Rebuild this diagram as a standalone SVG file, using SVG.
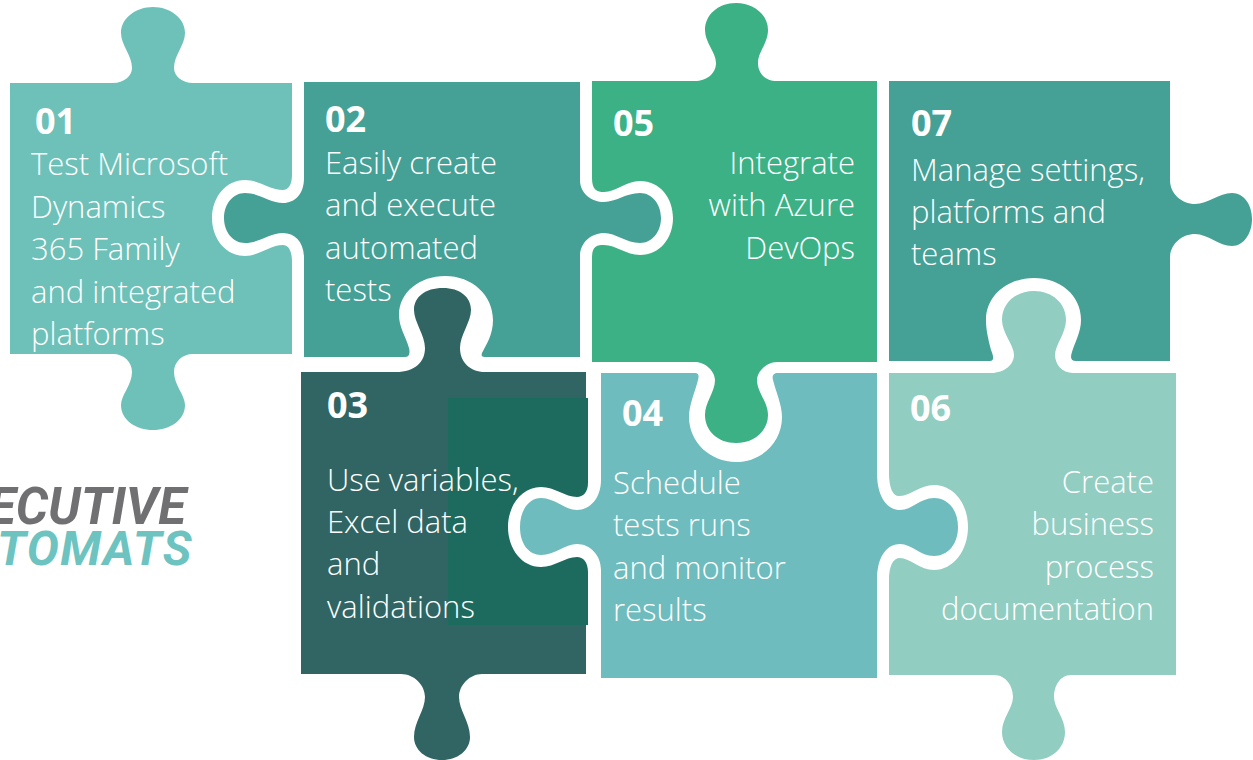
<svg xmlns="http://www.w3.org/2000/svg" width="1253" height="760" viewBox="0 0 1253 760">
<style>
.h{fill:#fff}
.n{font:700 36px "Open Sans",sans-serif;fill:#fff}
.t{font:300 31px "Open Sans",sans-serif;fill:#fff}
.e{text-anchor:end}
.l{font:italic 700 50px Roboto,sans-serif;text-anchor:end}
</style>
<rect width="1253" height="760" fill="#fff"/>
<g id="node-01">
<path fill="#6ec1b8" d="M10 83H113C124 83 132 76 132 68C132 55 121 45 121 33C121 18 136 7 153 7C170 7 185 18 185 33C185 45 174 55 174 68C174 76 182 83 193 83H292V354H193C182 354 174 362 174 372C174 385 185 395 185 405C185 420 170 430 153 430C136 430 121 420 121 405C121 395 132 385 132 372C132 362 124 354 113 354H10Z"/>
<text class="n" x="35" y="134">01</text>
<text class="t" x="31" y="175">Test Microsoft</text><text class="t" x="31" y="218">Dynamics</text><text class="t" x="31" y="260">365 Family</text><text class="t" x="31" y="303">and integrated</text><text class="t" x="31" y="345">platforms</text>
</g>
<g id="node-02">
<path class="h" d="M304 165H292V175C292 185 288 190 283 190C270 190 259 180 245 180C226 180 212 197 212 218C212 239 226 256 245 256C259 256 270 245 283 245C288 245 292 250 292 262V275H304Z"/>
<path fill="#45a096" d="M304 82H580V180C580 194 592 202 604 202C616 202 626 193 640 193C652 193 661 204 661 218C661 232 652 243 640 243C626 243 616 233 604 233C592 233 580 242 580 256V357H304V258C304 242 295 233 283 233C270 233 259 243 245 243C233 243 224 232 224 218C224 204 233 193 245 193C259 193 270 203 283 203C295 203 304 194 304 178Z"/>
<text class="n" x="325" y="132">02</text>
<text class="t" x="325" y="174">Easily create</text><text class="t" x="325" y="216">and execute</text><text class="t" x="325" y="259">automated</text><text class="t" x="325" y="301">tests</text>
</g>
<g id="node-07">
<path fill="#45a096" d="M889 81H1170V180C1170 194 1182 204 1195 204C1208 204 1219 193 1232 193C1244 193 1252 205 1252 219C1252 233 1244 246 1232 246C1219 246 1208 234 1195 234C1182 234 1170 244 1170 258V361H889Z"/>
<text class="n" x="911" y="136">07</text>
<text class="t" x="911" y="181">Manage settings,</text><text class="t" x="911" y="223">platforms and</text><text class="t" x="911" y="265">teams</text>
</g>
<g id="node-06">
<path class="h" d="M985 373V361H990C995 361 993 355 991 350C988 338 986 330 986 320C986 295 1008 278 1034 278C1060 278 1081 295 1081 320C1081 332 1075 342 1072 352C1070 358 1071 361 1076 361H1082V373Z"/>
<path fill="#91cdc0" d="M889 373H991C1005 373 1014 364 1014 355C1014 345 1002 333 1002 320C1002 303 1016 291 1034 291C1052 291 1066 303 1066 320C1066 333 1055 345 1055 355C1055 364 1062 373 1073 373H1176V675H1071C1060 675 1054 686 1054 697C1054 708 1065 718 1065 732C1065 748 1052 760 1034 760C1016 760 1002 748 1002 732C1002 718 1013 708 1013 697C1013 686 1006 675 994 675H889Z"/>
<text class="n" x="910" y="421">06</text>
<text class="t e" x="1154" y="493">Create</text><text class="t e" x="1154" y="535">business</text><text class="t e" x="1154" y="578">process</text><text class="t e" x="1154" y="620">documentation</text>
</g>
<g id="node-03">
<path class="h" d="M400 372V357H405C410 357 410 352 409 348C405 335 399 327 399 315C399 292 420 276 445 276C472 276 493 295 493 320C493 335 486 345 482 353C481 356 482 357 486 357H492V372Z"/>
<path fill="#306563" d="M301 372H396C415 372 425 362 425 348C425 335 414 322 414 310C414 297 425 288 443 288C460 288 471 297 471 310C471 322 460 335 460 348C460 362 470 372 485 372H586V674H482C470 674 459 685 459 697C459 710 470 722 470 737C470 750 458 760 442 760C426 760 414 750 414 737C414 722 425 710 425 697C425 685 414 674 401 674H301Z"/>
<rect x="448" y="398" width="140" height="227" fill="#1d6b5e"/>
<text class="n" x="327" y="418">03</text>
<text class="t" x="327" y="491">Use variables,</text><text class="t" x="327" y="533">Excel data</text><text class="t" x="327" y="575">and</text><text class="t" x="327" y="618">validations</text>
</g>
<g id="node-04">
<path class="h" d="M601 470H588V483C588 492 583 497 577 497C565 497 555 487 541 487C522 487 508 505 508 527C508 549 522 567 541 567C555 567 565 557 577 557C583 557 588 562 588 572V585H601Z"/>
<path class="h" d="M877 460H889V473C889 488 893 497 900 496C910 496 920 485 934 485C953 485 968 503 968 527C968 551 953 570 934 570C920 570 910 558 900 558C893 558 889 566 889 580V600H877Z"/>
<path fill="#6ebcbd" d="M601 373H877V473C877 498 888 510 900 510C912 510 920 498 934 498C948 498 958 510 958 527C958 544 948 556 934 556C920 556 912 544 900 544C888 544 877 555 877 580V678H601V570C601 555 590 544 577 544C565 544 555 555 541 555C529 555 520 544 520 527C520 510 529 498 541 498C555 498 565 510 577 510C590 510 601 498 601 480Z"/>
<text class="n" x="622" y="426">04</text>
<text class="t" x="613" y="494">Schedule</text><text class="t" x="613" y="536">tests runs</text><text class="t" x="613" y="579">and monitor</text><text class="t" x="613" y="621">results</text>
</g>
<g id="node-05">
<path class="h" d="M686 373V362H785V373H778C773 373 772 376 773 380C776 392 782 405 782 417C782 442 762 462 736 462C710 462 689 442 689 417C689 405 695 392 698 380C699 376 699 373 695 373Z"/>
<path fill="#3bb185" d="M592 81H695C706 81 716 74 716 63C716 52 705 43 705 30C705 15 718 3 736 3C754 3 768 15 768 30C768 43 758 52 758 63C758 74 766 81 777 81H877V362H777C766 362 757 372 757 380C757 392 768 402 768 415C768 431 754 443 736 443C718 443 705 431 705 415C705 402 715 392 715 380C715 372 706 362 695 362H592V258C592 246 597 245 604 245C616 245 626 255 640 255C660 255 673 238 673 218C673 198 660 181 640 181C626 181 616 192 604 192C597 192 592 190 592 178Z"/>
<text class="n" x="613" y="136">05</text>
<text class="t e" x="855" y="174">Integrate</text><text class="t e" x="855" y="216">with Azure</text><text class="t e" x="855" y="259">DevOps</text>
</g>
<g id="logo">
<text class="l" x="186" y="524" fill="#707072" style="font-size:51px">ECUTIVE</text>
<text class="l" x="193" y="565" fill="#6cc3c0" style="font-size:48px" letter-spacing="1.5">TOMATS</text>
</g>
</svg>
